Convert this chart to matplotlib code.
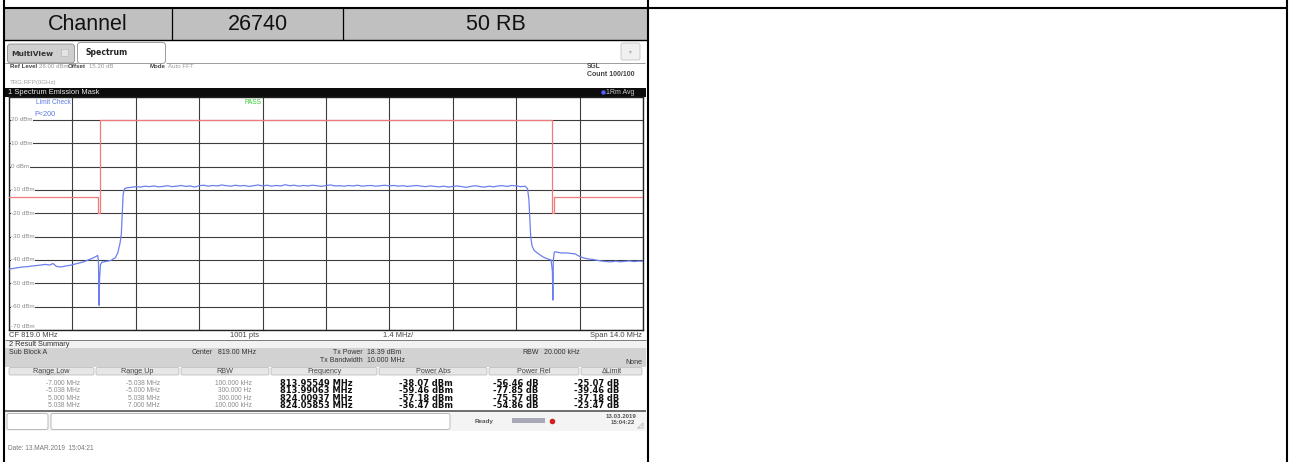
import matplotlib
matplotlib.use("Agg")
import matplotlib.pyplot as plt
from matplotlib.patches import Rectangle, FancyBboxPatch

# ---------------------------------------------------------------- data
header_cells = ["Channel", "26740", "50 RB"]

span_start_mhz = 812.0
span_stop_mhz = 826.0
ref_top_dbm = 30
ref_bottom_dbm = -70
level_labels = ["20 dBm", "10 dBm", "0 dBm", "-10 dBm", "-20 dBm", "-30 dBm",
                "-40 dBm", "-50 dBm", "-60 dBm", "-70 dBm"]
level_values = [20, 10, 0, -10, -20, -30, -40, -50, -60, -70]

# emission mask limit line
limit_freq_mhz = [812.0, 813.962, 813.962, 814.0, 814.0, 824.0, 824.0, 824.038, 824.038, 826.0]
limit_level_dbm = [-13, -13, -20, -20, 20, 20, -20, -20, -13, -13]

# measured trace (1 Rm Avg)
trace_freq_mhz = [
    812.00, 812.10, 812.20, 812.30, 812.40, 812.50, 812.60, 812.70, 812.80, 812.90,
    812.97, 813.05, 813.15, 813.25, 813.35, 813.45, 813.55, 813.65, 813.75, 813.85,
    813.93, 813.95549, 813.975, 813.985, 813.99063, 814.00, 814.02, 814.05, 814.15, 814.25,
    814.35, 814.40, 814.45, 814.48, 814.50, 814.52, 814.55,
    814.6, 814.7, 814.8, 814.9, 815.0, 815.1, 815.2, 815.3, 815.4, 815.5,
    815.6, 815.7, 815.8, 815.9, 816.0, 816.1, 816.2, 816.3, 816.4, 816.5,
    816.6, 816.7, 816.8, 816.9, 817.0, 817.1, 817.2, 817.3, 817.4, 817.5,
    817.6, 817.7, 817.8, 817.9, 818.0, 818.1, 818.2, 818.3, 818.4, 818.5,
    818.6, 818.7, 818.8, 818.9, 819.0, 819.1, 819.2, 819.3, 819.4, 819.5,
    819.6, 819.7, 819.8, 819.9, 820.0, 820.1, 820.2, 820.3, 820.4, 820.5,
    820.6, 820.7, 820.8, 820.9, 821.0, 821.1, 821.2, 821.3, 821.4, 821.5,
    821.6, 821.7, 821.8, 821.9, 822.0, 822.1, 822.2, 822.3, 822.4, 822.5,
    822.6, 822.7, 822.8, 822.9, 823.0, 823.1, 823.2, 823.3, 823.4,
    823.45, 823.48, 823.50, 823.52, 823.55, 823.60, 823.70, 823.80, 823.90, 823.97,
    824.00, 824.00937, 824.02, 824.04, 824.05853, 824.10, 824.20, 824.30, 824.40, 824.50,
    824.60, 824.70, 824.80, 824.90, 825.00, 825.10, 825.20, 825.30, 825.40, 825.50,
    825.60, 825.70, 825.80, 825.90, 826.00,
]
trace_level_dbm = [
    -44.0, -43.6, -43.3, -43.0, -42.9, -42.6, -42.4, -42.2, -41.9, -42.2,
    -41.5, -42.8, -43.0, -42.6, -42.3, -41.8, -41.3, -40.8, -40.0, -39.2,
    -38.4, -38.07, -40.0, -55.0, -59.46, -48.0, -42.0, -41.0, -40.6, -40.2,
    -39.0, -37.0, -33.0, -29.0, -20.0, -12.0, -9.5,
    -9.1, -8.9, -8.6, -8.8, -8.4, -8.6, -8.3, -8.7, -8.5, -8.2,
    -8.6, -8.4, -8.1, -8.5, -8.3, -8.8, -8.2, -8.0, -8.4, -8.1,
    -8.3, -7.9, -8.2, -8.4, -8.0, -8.3, -8.1, -8.5, -8.2, -7.9,
    -8.3, -8.0, -8.4, -8.1, -8.3, -7.8, -8.2, -8.0, -8.4, -8.1,
    -8.3, -8.0, -8.2, -8.5, -8.1, -7.9, -8.3, -8.2, -8.4, -8.1,
    -8.3, -8.0, -8.4, -8.2, -8.1, -8.4, -8.2, -8.0, -8.3, -8.1,
    -8.4, -8.2, -8.5, -8.3, -8.1, -8.4, -8.6, -8.3, -8.5, -8.7,
    -8.4, -8.8, -8.5, -8.3, -8.6, -8.9, -8.5, -8.2, -8.6, -8.8,
    -8.4, -8.7, -8.3, -8.2, -8.5, -8.1, -8.3, -8.6, -8.4,
    -9.5, -14.0, -22.0, -30.0, -34.0, -36.0, -37.5, -38.8, -39.6, -40.0,
    -45.0, -57.18, -40.0, -36.8, -36.47, -36.7, -37.0, -37.0, -37.2, -37.4,
    -38.5, -39.2, -39.6, -39.8, -40.2, -40.5, -40.7, -40.8, -40.5, -40.8,
    -40.6, -40.4, -40.7, -40.5, -40.6,
]

# result summary table
range_low = ["-7.000 MHz", "-5.038 MHz", "5.000 MHz", "5.038 MHz"]
range_up = ["-5.038 MHz", "-5.000 MHz", "5.038 MHz", "7.000 MHz"]
rbw = ["100.000 kHz", "300.000 Hz", "300.000 Hz", "100.000 kHz"]
peak_freq_mhz = [813.95549, 813.99063, 824.00937, 824.05853]
power_abs_dbm = [-38.07, -59.46, -57.18, -36.47]
power_rel_db = [-56.46, -77.85, -75.57, -54.86]
delta_limit_db = [-25.07, -39.46, -37.18, -23.47]
table_columns = ["Range Low", "Range Up", "RBW", "Frequency", "Power Abs", "Power Rel", "\u0394Limit"]

# ---------------------------------------------------------------- figure
W, H = 1290, 462
fig = plt.figure(figsize=(W / 100, H / 100), dpi=100)
bg = fig.add_axes([0, 0, 1, 1])
bg.set_xlim(0, W)
bg.set_ylim(H, 0)
bg.axis("off")

SS = "Liberation Sans"
SCR = "Liberation Sans"
BOLD = "DejaVu Sans"


def hline(y, x0, x1, c="black", lw=1.5, z=5):
    bg.plot([x0, x1], [y, y], color=c, lw=lw, solid_capstyle="butt", zorder=z)


def vline(x, y0, y1, c="black", lw=1.5, z=5):
    bg.plot([x, x], [y0, y1], color=c, lw=lw, solid_capstyle="butt", zorder=z)


def rect(x0, y0, x1, y1, fc, ec="none", lw=0.6, z=1):
    bg.add_patch(Rectangle((x0, y0), x1 - x0, y1 - y0, fc=fc, ec=ec, lw=lw, zorder=z))


def stext(x, y, s, size=4.4, color="#444444", weight="normal", ha="left", family=SCR, z=6):
    bg.text(x, y, s, fontsize=size, family=family, weight=weight, ha=ha, va="center",
            color=color, zorder=z)


# outer document table
vline(3.5, 0, H)
vline(647.5, 0, H)
vline(1286.5, 0, H)
hline(7.5, 3, 1287)

# header row
rect(4.5, 8.5, 646.5, 39.5, "#c0c0c0")
vline(172, 7.5, 39.5, lw=0.9)
vline(343, 7.5, 39.5, lw=0.9)
hline(39.5, 3, 648, lw=1.0)
for cx, txt in zip([88, 257.5, 495.5], header_cells):
    bg.text(cx, 24, txt, ha="center", va="center", fontsize=15.5, family=SS, color="#111111")

# ---------------------------------------------------------------- instrument screen
rect(5, 40.5, 646, 458, "white")

# tab bar
bg.add_patch(FancyBboxPatch((7.5, 44), 67, 19, boxstyle="round,pad=0,rounding_size=3",
                            fc="#cfcfcf", ec="#8c8c8c", lw=0.6, zorder=2))
bg.add_patch(FancyBboxPatch((77.5, 42.5), 88, 21, boxstyle="round,pad=0,rounding_size=3",
                            fc="white", ec="#8c8c8c", lw=0.6, zorder=3))
rect(61, 49, 68, 56, "#e4e4e4", ec="#b0b0b0", lw=0.4, z=3)
stext(11, 53.5, "MultiView", size=5.4, weight="bold", color="#333333", family=BOLD)
stext(85, 52.5, "Spectrum", size=5.6, weight="bold", color="#222222", family=BOLD)
hline(63, 5, 77.5, c="#8c8c8c", lw=0.6, z=2)
hline(63, 165.5, 645, c="#8c8c8c", lw=0.6, z=2)
bg.add_patch(FancyBboxPatch((621, 43), 19, 17, boxstyle="round,pad=0,rounding_size=2",
                            fc="#f0f0f0", ec="#c4c4c4", lw=0.6, zorder=3))
bg.text(630.5, 51.5, "\u25be", fontsize=4, ha="center", va="center", color="#aaaaaa", zorder=4)

# settings line
info_y = 67
stext(10, info_y, "Ref Level", weight="bold")
stext(39, info_y, "28.00 dBm", color="#9a9a9a")
stext(68, info_y, "Offset", weight="bold")
stext(89, info_y, "15.20 dB", color="#9a9a9a")
stext(150, info_y, "Mode", weight="bold")
stext(168, info_y, "Auto FFT", color="#9a9a9a")
stext(587, info_y, "SGL", size=4.8, weight="bold")
stext(587, 74, "Count 100/100", size=5.0, weight="bold")
stext(10, 82.5, "TRG:RFP(0GHz)", size=4.4, color="#a0a0a0")

# window title bar
rect(5, 88, 646, 96.5, "#0c0c0c", z=2)
stext(8, 92.3, "1 Spectrum Emission Mask", size=5.4, color="#e8e8e8")
bg.plot([603], [92.3], "o", ms=2.2, color="#5060ff", zorder=3)
stext(606, 92.3, "1Rm Avg", size=5.0, color="#cccccc")

# ---------------------------------------------------------------- spectrum diagram
px0, px1, py0, py1 = 9, 643, 96.5, 330
ax = fig.add_axes([px0 / W, 1 - py1 / H, (px1 - px0) / W, (py1 - py0) / H])
ax.set_xlim(span_start_mhz, span_stop_mhz)
ax.set_ylim(ref_bottom_dbm, ref_top_dbm)
div = (span_stop_mhz - span_start_mhz) / 10
ax.set_xticks([span_start_mhz + i * div for i in range(11)])
ax.set_yticks(list(range(ref_bottom_dbm, ref_top_dbm + 1, 10)))
ax.tick_params(length=0, labelbottom=False, labelleft=False)
ax.grid(True, color="#3c3c3c", lw=0.8)
for s in ax.spines.values():
    s.set_color("#222222")
    s.set_linewidth(1.0)

ax.plot(limit_freq_mhz, limit_level_dbm, color="#f07a7a", lw=0.9, zorder=3)
ax.plot(trace_freq_mhz, trace_level_dbm, color="#6c7ff0", lw=0.9, zorder=4)

for lab, val in zip(level_labels, level_values):
    yv = val if val > ref_bottom_dbm else val + 1.3
    ax.text(812.05, yv, lab, fontsize=4.5, family=SCR, va="center", ha="left", color="#8a8a8a",
            bbox=dict(fc="white", ec="none", pad=0.2), zorder=5)

ax.text(812.6, 27.3, "Limit Check", fontsize=4.8, family=SCR, color="#5a78e8", va="center", zorder=5)
ax.text(812.56, 22.4, "P<200", fontsize=5.2, family=SCR, color="#5a78e8", va="center", zorder=6)
ax.text(817.2, 27.3, "PASS", fontsize=4.8, family=SCR, color="#33cc33", va="center", zorder=5)

# footer of the diagram
rect(5, 330, 646, 340, "white", z=1)
hline(340, 5, 646, c="#7a7a7a", lw=0.7)
stext(9, 335.3, "CF 819.0 MHz", size=5.4)
stext(230, 335.3, "1001 pts", size=5.4)
stext(383, 335.3, "1.4 MHz/", size=5.4)
stext(642, 335.3, "Span 14.0 MHz", size=5.4, ha="right")

# ---------------------------------------------------------------- result summary
rect(5, 340.5, 646, 348, "#f2f2f2", z=1)
stext(9, 344.3, "2 Result Summary", size=5.3, color="#333333")
rect(5, 348, 646, 367, "#d2d2d2", z=1)
stext(9, 353, "Sub Block A", size=5.0, color="#333333")
stext(213, 353, "Center", size=5.0, color="#333333", ha="right")
stext(218, 353, "819.00 MHz", size=5.0, color="#333333")
stext(363, 353, "Tx Power", size=5.0, color="#333333", ha="right")
stext(367, 353, "18.39 dBm", size=5.0, color="#333333")
stext(363, 360, "Tx Bandwidth", size=5.0, color="#333333", ha="right")
stext(367, 360, "10.000 MHz", size=5.0, color="#333333")
stext(539, 353, "RBW", size=5.0, color="#333333", ha="right")
stext(544, 353, "20.000 kHz", size=5.0, color="#333333")
stext(642, 363, "None", size=5.0, color="#333333", ha="right")

col_edges = [8, 95, 180, 270, 378, 488, 580, 643]
for i, name in enumerate(table_columns):
    x0, x1 = col_edges[i] + 1, col_edges[i + 1] - 1
    bg.add_patch(FancyBboxPatch((x0, 367.5), x1 - x0, 7.5, boxstyle="round,pad=0,rounding_size=1.5",
                                fc="#e6e6e6", ec="#b4b4b4", lw=0.5, zorder=2))
    stext((x0 + x1) / 2, 371.3, name, size=5.2, ha="center", color="#444444")
    bg.plot([(x0 + x1) / 2 - len(name) * 1.35, (x0 + x1) / 2 + len(name) * 1.35], [374.3, 374.3],
            color="#777777", lw=0.3, zorder=3)

row_y = [383.3, 390.7, 398.1, 405.5]
for i, yv in enumerate(row_y):
    stext(80, yv, range_low[i], size=4.8, ha="right", color="#8c8c8c")
    stext(160, yv, range_up[i], size=4.8, ha="right", color="#8c8c8c")
    stext(252, yv, rbw[i], size=4.8, ha="right", color="#8c8c8c")
    stext(316, yv, f"{peak_freq_mhz[i]:.5f} MHz", size=6.0, weight="bold", ha="center",
          color="#111111", family=BOLD)
    stext(426, yv, f"{power_abs_dbm[i]:.2f} dBm", size=6.0, weight="bold", ha="center",
          color="#111111", family=BOLD)
    stext(516, yv, f"{power_rel_db[i]:.2f} dB", size=6.0, weight="bold", ha="center",
          color="#111111", family=BOLD)
    stext(597, yv, f"{delta_limit_db[i]:.2f} dB", size=6.0, weight="bold", ha="center",
          color="#111111", family=BOLD)

# ---------------------------------------------------------------- status bar
hline(410.8, 5, 646, c="#555555", lw=1.2)
rect(5, 411.5, 646, 431, "#f4f4f4", z=1)
bg.add_patch(FancyBboxPatch((7, 413.5), 41, 16, boxstyle="round,pad=0,rounding_size=2",
                            fc="white", ec="#b0b0b0", lw=0.6, zorder=2))
bg.add_patch(FancyBboxPatch((51, 413.5), 399, 16, boxstyle="round,pad=0,rounding_size=2",
                            fc="white", ec="#b0b0b0", lw=0.6, zorder=2))
stext(475, 421, "Ready", size=4.6, weight="bold", color="#555555")
rect(512, 418, 545, 423, "#a8a8b8", z=2)
bg.plot([552], [420.5], "o", ms=3, color="#d02020", zorder=3)
stext(621, 416, "13.03.2019", size=4.4, weight="bold", ha="center", color="#555555")
stext(623, 423, "15:04:22", size=4.4, weight="bold", ha="center", color="#555555")
bg.plot([638, 643, 643, 638], [428, 423, 428, 428], color="#b8b8b8", lw=0.6)

stext(8, 448, "Date: 13.MAR.2019  15:04:21", size=4.7, color="#777777")

fig.savefig("out.png", dpi=100)
